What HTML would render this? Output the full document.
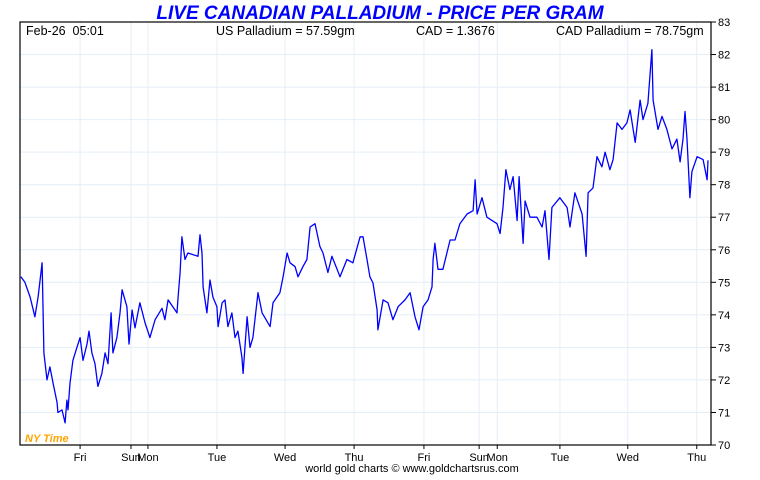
<!DOCTYPE html>
<html><head><meta charset="utf-8"><style>
body{margin:0;background:#fff;width:760px;height:475px;overflow:hidden;font-family:"Liberation Sans",sans-serif}
svg text{font-family:"Liberation Sans",sans-serif}
</style></head><body>
<svg id="chart" width="760" height="475" xmlns="http://www.w3.org/2000/svg">
<text x="380" y="19" text-anchor="middle" font-size="19" font-weight="bold" font-style="italic" fill="#0000ff">LIVE CANADIAN PALLADIUM - PRICE PER GRAM</text>
<g id="grid"></g>
<g id="axes"></g>
<path id="line" fill="none" stroke="#0000ff" stroke-width="1.3" stroke-linejoin="round"/>
<rect x="20" y="22" width="691" height="423" fill="none" stroke="#000" stroke-width="1.2"/>
<text x="26" y="35" font-size="12.5" fill="#000">Feb-26&#160;&#160;05:01</text>
<text x="216" y="35" font-size="12.5" fill="#000">US Palladium = 57.59gm</text>
<text x="416" y="35" font-size="12.5" fill="#000">CAD = 1.3676</text>
<text x="556" y="35" font-size="12.5" fill="#000">CAD Palladium = 78.75gm</text>
<text x="25" y="442" font-size="11" font-weight="bold" font-style="italic" fill="#ffa500">NY Time</text>
<text x="412" y="472" text-anchor="middle" font-size="11" fill="#000">world gold charts © www.goldchartsrus.com</text>
</svg>
<script>
const yTicks=[70,71,72,73,74,75,76,77,78,79,80,81,82,83];
const dayLabels=["Fri","Sun","Mon","Tue","Wed","Thu","Fri","Sun","Mon","Tue","Wed","Thu"];
const dayHours=[20.9,38.6,44.5,68.5,92.2,116.2,140.5,159.7,166.0,187.8,211.4,235.4];
const hours=[0.3,1.7,3.5,5.2,6.3,7.7,8.0,8.3,9.4,10.4,11.5,12.9,13.2,14.6,15.7,16.3,16.7,17.4,18.4,19.8,20.9,21.9,23.3,24.0,25.0,26.1,27.1,28.5,29.6,30.6,31.7,32.3,33.7,34.8,35.5,37.2,37.9,39.0,40.0,41.7,43.5,45.2,47.0,49.4,50.4,51.5,54.6,55.0,55.7,56.3,57.4,58.4,61.9,62.6,63.3,63.7,65.0,66.1,67.1,68.5,68.9,70.3,71.3,72.3,73.7,74.8,75.8,77.2,77.6,79.0,80.0,81.0,82.8,84.2,87.0,88.0,90.4,91.5,92.9,93.9,95.7,96.7,98.4,99.8,100.9,102.6,104.3,105.4,107.1,108.5,110.3,111.3,113.7,115.8,118.3,119.3,120.7,121.7,122.8,124.2,124.5,126.3,128.0,129.7,131.5,133.9,135.7,137.4,138.8,140.2,141.9,143.3,143.7,144.3,145.4,147.1,148.5,149.6,151.3,153.0,155.5,157.6,158.3,159.0,160.7,162.4,165.9,167.0,168.0,169.0,170.4,171.5,172.9,173.6,175.0,175.7,177.4,179.8,181.6,182.6,184.0,185.0,187.8,190.3,191.3,193.0,195.5,196.9,197.6,199.3,200.7,202.4,203.5,205.2,206.3,207.7,209.4,211.1,212.2,214.0,215.7,216.7,218.4,219.8,220.2,221.9,223.3,225.0,226.8,228.5,229.6,230.6,231.3,232.0,233.0,233.7,235.5,237.6,239.0,239.3];
const prices=[75.17,75.0,74.55,73.94,74.55,75.6,74.25,72.83,72.0,72.4,71.9,71.3,71.0,71.08,70.68,71.38,71.08,71.9,72.6,73.0,73.3,72.6,73.1,73.5,72.83,72.5,71.8,72.2,72.83,72.5,74.06,72.83,73.3,74.06,74.77,74.25,73.1,74.15,73.6,74.37,73.75,73.3,73.85,74.2,73.85,74.46,74.06,74.55,75.3,76.4,75.7,75.9,75.8,76.46,75.9,74.86,74.06,75.07,74.55,74.25,73.64,74.37,74.46,73.64,74.06,73.3,73.5,72.7,72.2,73.94,73.0,73.3,74.68,74.06,73.64,74.37,74.68,75.17,75.9,75.6,75.48,75.17,75.48,75.7,76.7,76.8,76.1,75.9,75.3,75.8,75.4,75.17,75.7,75.6,76.4,76.4,75.7,75.17,74.98,74.15,73.54,74.46,74.37,73.85,74.25,74.46,74.68,73.94,73.54,74.25,74.46,74.86,75.7,76.2,75.4,75.4,75.9,76.3,76.3,76.8,77.1,77.2,78.15,77.1,77.6,77.0,76.8,76.5,77.3,78.46,77.85,78.25,76.9,78.25,76.2,77.5,77.0,77.0,76.7,77.2,75.7,77.3,77.6,77.3,76.7,77.75,77.1,75.8,77.75,77.9,78.86,78.55,79.0,78.46,78.77,79.9,79.7,79.9,80.3,79.3,80.6,80.0,80.5,82.15,80.6,79.7,80.1,79.7,79.1,79.4,78.7,79.4,80.25,79.4,77.6,78.4,78.86,78.77,78.15,78.75];
const X0=20,X1=711,Y0=445,Y1=22,HMAX=240.35,VMIN=70,VMAX=83;
const xs=h=>X0+(h/HMAX)*(X1-X0);
const ys=v=>Y0-(v-VMIN)/(VMAX-VMIN)*(Y0-Y1);
const NS="http://www.w3.org/2000/svg";
const grid=document.getElementById('grid'),axes=document.getElementById('axes');
function mk(tag,at,parent){const e=document.createElementNS(NS,tag);for(const k in at)e.setAttribute(k,at[k]);parent.appendChild(e);return e;}
yTicks.forEach(v=>{
  const y=ys(v);
  const g=mk('line',{x1:X0,x2:X1,y1:y,y2:y,stroke:'#e4eef7','stroke-width':1},grid);
  
  
  const t=mk('line',{x1:X1,x2:X1+5,y1:y,y2:y,stroke:'#000','stroke-width':1},axes);
  
  
  const l=mk('text',{x:X1+7,y:y+4,'font-size':11,fill:'#000'},axes);
  l.textContent=v;
  
  
});
dayLabels.forEach((d,i)=>{
  const x=xs(dayHours[i]);
  const g=mk('line',{x1:x,x2:x,y1:Y1,y2:Y0,stroke:'#e4eef7','stroke-width':1},grid);
  
  
  const t=mk('line',{x1:x,x2:x,y1:Y0,y2:Y0+4,stroke:'#000','stroke-width':1},axes);
  
  
  const l=mk('text',{x:x,y:Y0+16,'font-size':11,fill:'#000','text-anchor':'middle'},axes);
  l.textContent=d;
  
  
});
let dstr='';
hours.forEach((h,i)=>{dstr+=(i?'L':'M')+xs(h).toFixed(1)+','+ys(prices[i]).toFixed(1);});
document.getElementById('line').setAttribute('d',dstr);
</script>
</body></html>
